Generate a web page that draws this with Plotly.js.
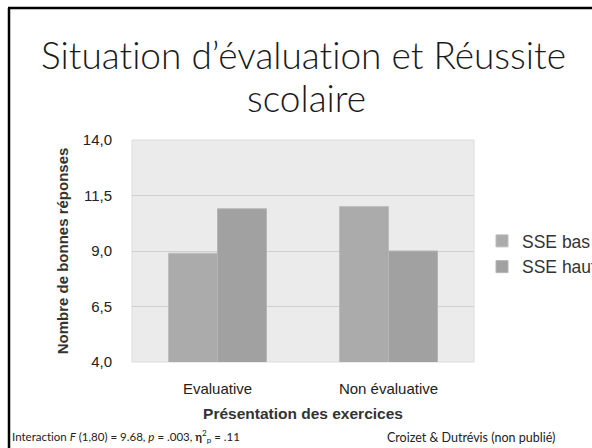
<!DOCTYPE html>
<html>
<head>
<meta charset="utf-8">
<script src="https://cdn.plot.ly/plotly-3.0.1.min.js"></script>
<style>
html,body{margin:0;padding:0;background:#fff;width:592px;height:448px;overflow:hidden;}
#chart{width:640px;height:448px;}
svg text{font-variant-ligatures:none;font-feature-settings:"liga" 0;}
</style>
</head>
<body>
<div id="chart"></div>
<script>
const categories = ["Evaluative", "Non évaluative"];
const seriesNames = ["SSE bas", "SSE haut"];
const sseBas = [8.9, 11.0];
const sseHaut = [10.9, 9.0];
const yTicks = [4.0, 6.5, 9.0, 11.5, 14.0];

const titleLine1 = "Situation d’évaluation et Réussite";
const titleLine2 = "scolaire";
const xTitle = "Présentation des exercices";
const yTitle = "Nombre de bonnes réponses";
const noteLeft = "Interaction <i>F</i> (1,80) = 9.68, <i>p</i> = .003, <b>η</b><sup>2</sup><sub>p</sub> = .11";
const noteRight = "Croizet & Dutrévis (non publié)";

// the slide is cropped at x = 592 (legend text is cut by the edge)
const W = 640, H = 448;
const L = 132, R = 474, T = 140, B = 362;
const px = x => (x - L) / (R - L);
const py = y => (B - y) / (B - T);

const traces = [
  {type: "bar", name: seriesNames[0], x: categories, y: sseBas,
   marker: {color: "#ababab", line: {color: "#bdbdbd", width: 1}}},
  {type: "bar", name: seriesNames[1], x: categories, y: sseHaut,
   marker: {color: "#a1a1a1", line: {color: "#b5b5b5", width: 1}}}
];

const titleFont = {family: "Lato", size: 37, color: "#1a1a1a", weight: 300};

const layout = {
  width: W, height: H,
  margin: {l: L, r: W - R, t: T, b: H - B, pad: 0, autoexpand: false},
  paper_bgcolor: "#ffffff",
  plot_bgcolor: "#ebebeb",
  separators: ",.",
  barmode: "group",
  bargap: 0.427,
  bargroupgap: 0,
  showlegend: true,
  font: {family: "Liberation Sans, Arial, sans-serif", color: "#222"},
  xaxis: {
    type: "category",
    showgrid: false, zeroline: false, showline: false,
    ticks: "outside", ticklen: 13, tickcolor: "rgba(0,0,0,0)",
    tickfont: {size: 15, color: "#222"},
    title: {text: "<b>" + xTitle + "</b>", font: {size: 15.5, color: "#333"}, standoff: 12}
  },
  yaxis: {
    range: [4, 14],
    tickvals: yTicks,
    tickformat: ".1f",
    showgrid: true, gridcolor: "#cfcfcf", gridwidth: 1,
    zeroline: false, showline: false,
    ticks: "outside", ticklen: 16, tickcolor: "rgba(0,0,0,0)",
    tickfont: {size: 15, color: "#222"},
    title: {text: "<b>" + yTitle + "</b>", font: {size: 15, color: "#333"}, standoff: 10}
  },
  legend: {
    x: px(482), xanchor: "left",
    y: py(254), yanchor: "middle",
    font: {size: 17.5, color: "#333"},
    bgcolor: "rgba(0,0,0,0)",
    tracegroupgap: 0,
    itemwidth: 30
  },
  shapes: [
    {type: "line", xref: "paper", yref: "paper",
     x0: px(9), x1: px(9), y0: py(8), y1: py(H + 5),
     line: {color: "#000", width: 2.5}},
    {type: "line", xref: "paper", yref: "paper",
     x0: px(8), x1: px(W + 5), y0: py(8), y1: py(8),
     line: {color: "#000", width: 2.5}},
    {type: "rect", xref: "paper", yref: "paper", x0: 0, x1: 1, y0: 0, y1: 1,
     line: {color: "#dcdcdc", width: 1}, layer: "below"}
  ],
  annotations: [
    {text: titleLine1, xref: "paper", yref: "paper", x: px(303), y: py(55),
     xanchor: "center", yanchor: "middle", showarrow: false, font: titleFont},
    {text: titleLine2, xref: "paper", yref: "paper", x: px(306), y: py(98),
     xanchor: "center", yanchor: "middle", showarrow: false, font: titleFont},
    {text: noteLeft, xref: "paper", yref: "paper", x: px(10), y: py(436),
     xanchor: "left", yanchor: "middle", showarrow: false,
     font: {family: "Lato", size: 11.5, color: "#222"}},
    {text: noteRight, xref: "paper", yref: "paper", x: px(385), y: py(437),
     xanchor: "left", yanchor: "middle", showarrow: false,
     font: {family: "Lato", size: 12.5, color: "#222"}}
  ]
};

Plotly.newPlot("chart", traces, layout, {displayModeBar: false, staticPlot: true});
</script>
</body>
</html>
